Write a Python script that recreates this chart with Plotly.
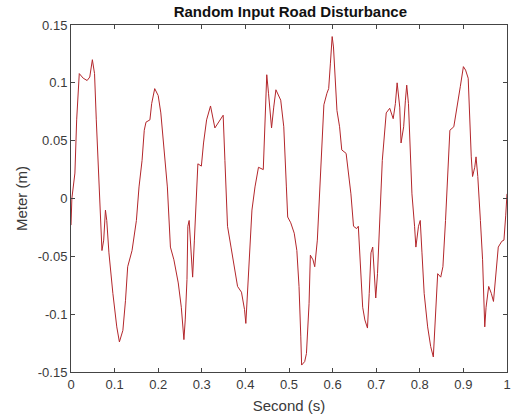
import plotly.graph_objects as go

# Time (s) and road disturbance (m)
time_s = [0.000, 0.002, 0.009, 0.013, 0.019, 0.028, 0.037, 0.043, 0.049, 0.054,
          0.058, 0.062, 0.066, 0.071, 0.075, 0.079, 0.082, 0.087, 0.096, 0.105,
          0.111, 0.119, 0.125, 0.130, 0.140, 0.150, 0.156, 0.163, 0.168, 0.172,
          0.181, 0.185, 0.192, 0.200, 0.206, 0.213, 0.221,
          0.228, 0.236, 0.246, 0.253, 0.259, 0.262, 0.266, 0.268, 0.271, 0.275,
          0.279, 0.283, 0.286, 0.291, 0.299, 0.304, 0.311, 0.320, 0.330, 0.342,
          0.349, 0.353, 0.359, 0.367, 0.376, 0.382, 0.391, 0.398, 0.401, 0.404,
          0.410, 0.415, 0.422, 0.430, 0.441, 0.445, 0.449, 0.453, 0.460, 0.465,
          0.470,
          0.481, 0.488, 0.494, 0.497, 0.504, 0.512, 0.518, 0.523, 0.527, 0.529,
          0.536, 0.540, 0.546, 0.549, 0.555, 0.559, 0.565, 0.571, 0.575, 0.580,
          0.587, 0.591, 0.595, 0.599, 0.602, 0.606, 0.610, 0.616, 0.621, 0.631,
          0.636, 0.642, 0.648, 0.655, 0.659, 0.664, 0.669, 0.674, 0.680, 0.684,
          0.688, 0.692, 0.695, 0.699, 0.703, 0.708, 0.714,
          0.723, 0.731, 0.739, 0.744, 0.748, 0.754, 0.757, 0.763, 0.767, 0.770,
          0.774, 0.778, 0.782, 0.788, 0.791, 0.797, 0.801, 0.805, 0.810, 0.818,
          0.825, 0.831, 0.835, 0.841, 0.848, 0.853, 0.859, 0.865, 0.869, 0.878,
          0.886, 0.893, 0.900, 0.905, 0.911, 0.914, 0.918, 0.921, 0.926, 0.929,
          0.933, 0.939, 0.944, 0.949, 0.952, 0.958, 0.964, 0.969, 0.974, 0.980,
          0.988, 0.993, 0.997, 1.000]
disturbance_m = [-0.023, 0.000, 0.022, 0.068, 0.108, 0.104, 0.102, 0.105, 0.120, 0.108,
                 0.068, 0.033, -0.013, -0.045, -0.036, -0.010, -0.019, -0.047, -0.082, -0.111,
                 -0.124, -0.114, -0.088, -0.059, -0.045, -0.019, 0.010, 0.033, 0.059, 0.066,
                 0.068, 0.082, 0.095, 0.089, 0.074, 0.042, 0.010,
                 -0.042, -0.053, -0.073, -0.094, -0.122, -0.105, -0.070, -0.024, -0.019, -0.042,
                 -0.068, -0.036, -0.007, 0.030, 0.028, 0.048, 0.068, 0.080, 0.061, 0.068,
                 0.072, 0.033, -0.024, -0.042, -0.065, -0.076, -0.081, -0.096, -0.108, -0.088,
                 -0.047, -0.010, 0.010, 0.027, 0.025, 0.071, 0.107, 0.091, 0.061, 0.079,
                 0.094,
                 0.085, 0.062, 0.010, -0.016, -0.021, -0.030, -0.045, -0.076, -0.119, -0.144,
                 -0.141, -0.134, -0.091, -0.049, -0.053, -0.059, -0.036, 0.010, 0.048, 0.081,
                 0.091, 0.095, 0.117, 0.140, 0.131, 0.108, 0.076, 0.062, 0.042, 0.039,
                 0.025, 0.004, -0.024, -0.026, -0.024, -0.059, -0.094, -0.105, -0.112, -0.082,
                 -0.047, -0.042, -0.065, -0.086, -0.065, -0.019, 0.033,
                 0.074, 0.078, 0.069, 0.082, 0.100, 0.079, 0.048, 0.062, 0.085, 0.098,
                 0.082, 0.039, 0.004, -0.024, -0.042, -0.024, -0.019, -0.047, -0.082, -0.111,
                 -0.128, -0.137, -0.105, -0.065, -0.068, -0.059, -0.019, 0.033, 0.059, 0.062,
                 0.079, 0.097, 0.114, 0.111, 0.104, 0.068, 0.036, 0.019, 0.027, 0.036,
                 0.019, -0.019, -0.053, -0.111, -0.094, -0.076, -0.082, -0.089, -0.065, -0.042,
                 -0.037, -0.036, -0.015, 0.004]

x_ticks = [0, 0.1, 0.2, 0.3, 0.4, 0.5, 0.6, 0.7, 0.8, 0.9, 1]
x_labels = ["0", "0.1", "0.2", "0.3", "0.4", "0.5", "0.6", "0.7", "0.8", "0.9", "1"]
y_ticks = [-0.15, -0.1, -0.05, 0, 0.05, 0.1, 0.15]
y_labels = ["-0.15", "-0.1", "-0.05", "0", "0.05", "0.1", "0.15"]

FONT = "Liberation Sans, Arial"

fig = go.Figure()
fig.add_trace(go.Scatter(x=time_s, y=disturbance_m, mode="lines",
                         line=dict(color="#b3262b", width=1), showlegend=False,
                         hoverinfo="skip"))

axis_common = dict(showgrid=False, zeroline=False, showline=True, linecolor="#444444",
                   linewidth=1, mirror="ticks", ticks="inside", ticklen=4,
                   tickcolor="#444444", ticklabeloverflow="allow",
                   tickfont=dict(family=FONT, size=13, color="#3a3a3a"))

fig.update_layout(
    width=513, height=419,
    margin=dict(l=71, r=2, t=25, b=47),
    paper_bgcolor="white", plot_bgcolor="white",
    hovermode=False,
    title=dict(text="<b>Random Input Road Disturbance</b>", x=0.566, xanchor="center",
               y=0.972, yanchor="middle",
               font=dict(family=FONT, size=15, color="#111111")),
    xaxis=dict(range=[0, 1], tickvals=x_ticks, ticktext=x_labels,
               title=dict(text="Second (s)", standoff=9,
                          font=dict(family=FONT, size=15, color="#3a3a3a")),
               **axis_common),
    yaxis=dict(range=[-0.15, 0.15], tickvals=y_ticks, ticktext=y_labels,
               title=dict(text="Meter (m)", standoff=6,
                          font=dict(family=FONT, size=15, color="#3a3a3a")),
               **axis_common),
)

fig.write_html("out.html", config={"displayModeBar": False},
               post_script="document.body.style.margin='0';document.body.style.overflow='hidden';")
